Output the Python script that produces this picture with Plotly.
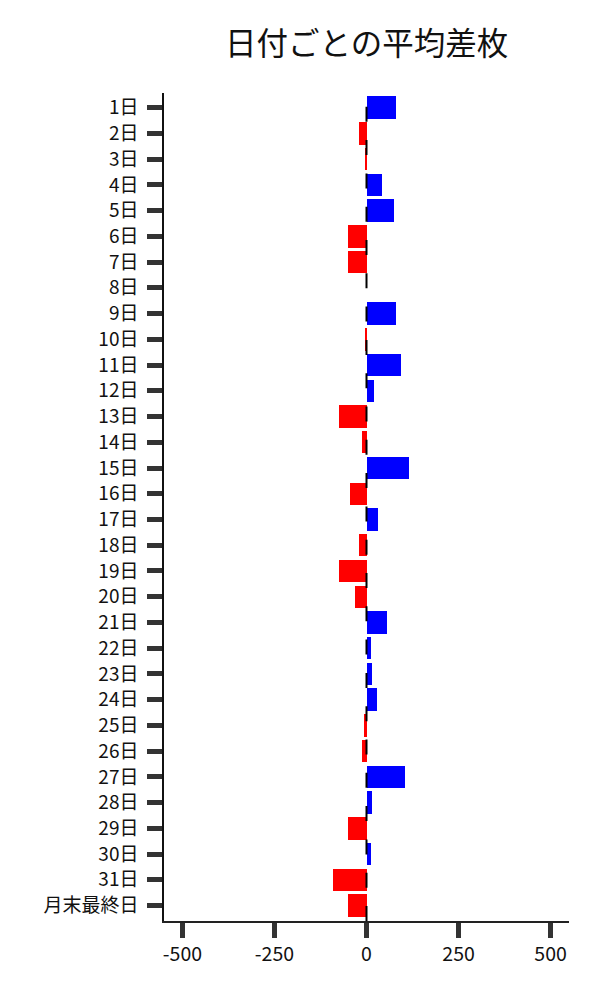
import plotly.graph_objects as go

days = [f"{d}日" for d in range(1, 32)] + ["月末最終日"]
values = [79.6, -20.8, -1.5, 43.4, 74.2, -50.6, -50.6, 0.0,
          79.6, -4.5, 93.2, 19.9, -75.0, -12.7, 114.9, -45.2,
          30.7, -20.8, -75.0, -31.7, 55.2, 10.9, 14.5, 28.0,
          -7.2, -12.7, 104.0, 14.5, -50.6, 11.8, -92.2, -50.6]
x_ticks = [-500, -250, 0, 250, 500]
title = "日付ごとの平均差枚"

positions = list(range(len(days)))
colors = ["#0000ff" if v > 0 else "#ff0000" for v in values]

font = "Noto Sans CJK JP, Noto Sans, sans-serif"

fig = go.Figure()
fig.add_trace(go.Bar(
    x=values, y=positions, orientation="h",
    marker=dict(color=colors, line=dict(width=0)),
    width=0.87, showlegend=False, hoverinfo="x+y",
))

fig.add_shape(type="line", xref="x", yref="paper", x0=0, x1=0, y0=0, y1=1,
              line=dict(color="black", width=2, dash="15px,18.3px"), layer="above")

fig.update_layout(
    width=600, height=1000,
    margin=dict(l=164, r=31, t=93, b=79),
    paper_bgcolor="white", plot_bgcolor="white",
    font=dict(family=font, size=19, color="#111"),
    title=dict(text=title, x=0.611, xanchor="center", y=0.956, yanchor="middle",
               font=dict(size=31.5, family=font, color="#111")),
    bargap=0,
)
fig.update_xaxes(
    range=[-550, 550], tickvals=x_ticks, ticktext=[str(t) for t in x_ticks],
    showgrid=False, zeroline=False, automargin=False,
    showline=True, linecolor="#222", linewidth=1.5,
    ticks="outside", ticklen=15, tickwidth=5, tickcolor="#333",
    tickfont=dict(size=19.5, family=font, color="#111"), ticklabelstandoff=0,
)
fig.update_yaxes(
    range=[31.6, -0.57], tickvals=positions, ticktext=days,
    showgrid=False, zeroline=False, automargin=False,
    showline=True, linecolor="#111", linewidth=1.5,
    ticks="outside", ticklen=15, tickwidth=5, tickcolor="#333",
    tickfont=dict(size=19, family=font, color="#111"), ticklabelstandoff=5,
)

fig.write_html("out.html", config={"displayModeBar": False},
               post_script="document.body.style.margin='0';")
